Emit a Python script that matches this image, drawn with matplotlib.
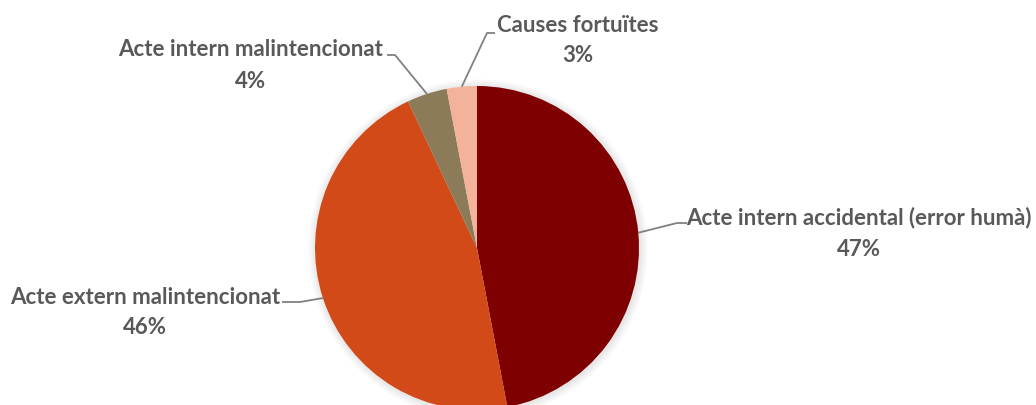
import matplotlib
matplotlib.use("Agg")
import matplotlib.pyplot as plt
from matplotlib.patches import Circle
import numpy as np

labels = ["Acte intern accidental (error humà)", "Acte extern malintencionat",
          "Acte intern malintencionat", "Causes fortuïtes"]
values = [47, 46, 4, 3]
colors = ["#7F0000", "#D14A17", "#8B7B58", "#F4B29B"]

W, H = 1036, 405
fig = plt.figure(figsize=(W/100, H/100), dpi=100)
ax = fig.add_axes([0, 0, 1, 1])

cx, cy, r = 477, H - 248, 162

# soft outer shadow
for k in range(8, 0, -1):
    ax.add_patch(Circle((cx + 1, cy - 1), r + k, facecolor="black",
                        alpha=0.012, edgecolor="none", zorder=0))

wedges, _ = ax.pie(values, colors=colors, startangle=90, counterclock=False,
                   center=(cx, cy), radius=r, frame=True,
                   wedgeprops=dict(edgecolor="none", linewidth=0))
ax.set_xlim(0, W)
ax.set_ylim(0, H)
ax.set_aspect("equal")
ax.axis("off")

# label text centres (pixels from top-left) and leader elbow points
label_pos = [(859, 218), (145, 297), (251, 50), (578, 25)]
elbow = [(677, 223), (300, 302), (395, 55), (487, 33)]
elbow_end = [(687, 223), (282, 302), (387, 55), (495, 33)]

total = sum(values)
txtcol = "#595959"
fs = 16
for w, lab, v, (tx, ty), (ex, ey), (fx, fy) in zip(wedges, labels, values, label_pos, elbow, elbow_end):
    ang = np.deg2rad((w.theta1 + w.theta2) / 2)
    px, py = cx + r * np.cos(ang), cy + r * np.sin(ang)
    ax.plot([px, ex, fx], [py, H - ey, H - fy], color="#808080", lw=1.3,
            solid_capstyle="butt", zorder=3)
    ax.text(tx, H - ty, lab, ha="center", va="center", fontsize=fs,
            fontweight="bold", color=txtcol, family="Lato")
    ax.text(tx, H - ty - 31, f"{round(v / total * 100)}%", ha="center", va="center",
            fontsize=fs, fontweight="bold", color=txtcol, family="Lato")

fig.savefig("out.png", dpi=100, facecolor="white")
